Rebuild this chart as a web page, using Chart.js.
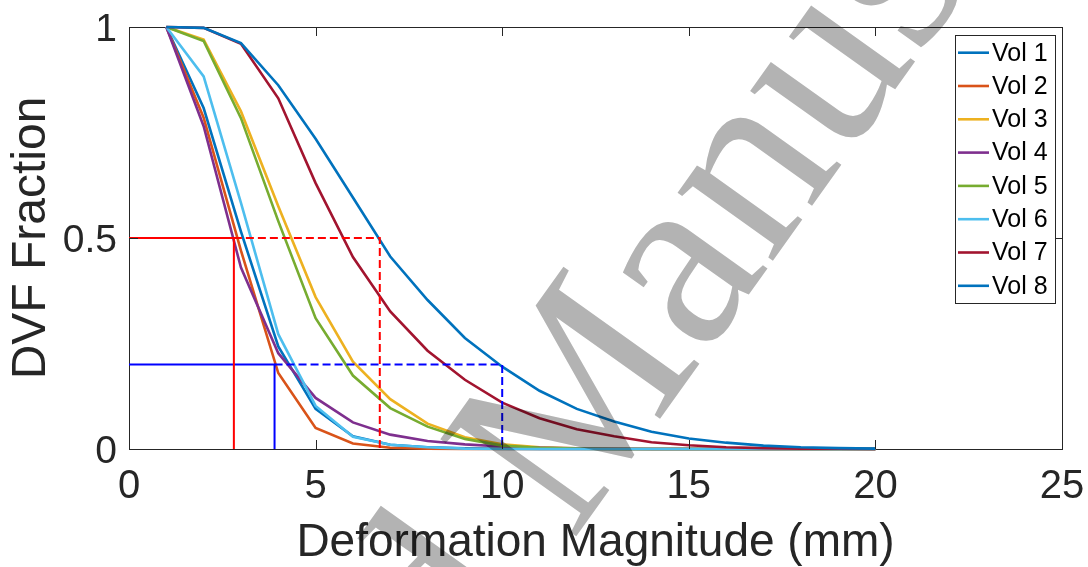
<!DOCTYPE html>
<html><head><meta charset="utf-8">
<script src="https://cdn.jsdelivr.net/npm/chart.js@4.4.1/dist/chart.umd.min.js"></script>
<style>html,body{margin:0;padding:0;background:#fff;}#wrap{width:1088px;height:567px;}</style>
</head><body><div id="wrap"><canvas id="c" width="1088" height="567"></canvas></div>
<script>
// ---- data ----
const magnitudes = [1,2,3,4,5,6,7,8,9,10,11,12,13,14,15,16,17,18,19,20];
const vol1 = [1,0.808,0.515,0.243,0.095,0.030,0.010,0.004,0.0015,0.0005,0,0,0,0,0,0,0,0,0,0];
const vol2 = [1,0.785,0.470,0.180,0.050,0.013,0.003,0.001,0,0,0,0,0,0,0,0,0,0,0,0];
const vol3 = [1,0.970,0.800,0.575,0.360,0.207,0.118,0.060,0.028,0.011,0.004,0.0015,0.0005,0,0,0,0,0,0,0];
const vol4 = [1,0.765,0.430,0.227,0.121,0.063,0.034,0.019,0.011,0.006,0.003,0.0015,0.0005,0,0,0,0,0,0,0];
const vol5 = [1,0.967,0.784,0.540,0.310,0.174,0.097,0.053,0.024,0.008,0.003,0.001,0,0,0,0,0,0,0,0];
const vol6 = [1,0.883,0.583,0.272,0.102,0.029,0.010,0.004,0.001,0,0,0,0,0,0,0,0,0,0,0];
const vol7 = [1,0.998,0.960,0.831,0.630,0.455,0.326,0.233,0.164,0.110,0.073,0.047,0.030,0.016,0.009,0.004,0.002,0.001,0.0005,0];
const vol8 = [1,0.998,0.962,0.862,0.735,0.596,0.456,0.353,0.263,0.195,0.138,0.095,0.065,0.041,0.025,0.015,0.008,0.004,0.002,0.001];
const seriesValues = [vol1,vol2,vol3,vol4,vol5,vol6,vol7,vol8];
const seriesLabels = ['Vol 1','Vol 2','Vol 3','Vol 4','Vol 5','Vol 6','Vol 7','Vol 8'];
const seriesColors = ['#0072BD','#D95319','#EDB120','#7E2F8E','#77AC30','#4DBEEE','#A2142F','#0072BD'];

// reference guide lines (x, y)
const redSolidX = [0, 2.81, 2.81];   const redSolidY = [0.5, 0.5, 0];
const redDashX  = [2.81, 6.72, 6.72]; const redDashY  = [0.5, 0.5, 0];
const blueSolidX = [0, 3.90, 3.90];  const blueSolidY = [0.2, 0.2, 0];
const blueDashX  = [3.90, 10, 10];   const blueDashY  = [0.2, 0.2, 0];

const xTicks = [0,5,10,15,20,25];
const yTicks = [0,0.5,1];
const xTitle = 'Deformation Magnitude (mm)';
const yTitle = 'DVF Fraction';
const watermarkText = 'Accepted Manuscript';

// ---- build ----
const AX = '#262626';
const FONT = '"Liberation Sans", Arial, Helvetica, sans-serif';
function pts(xs, ys){ return xs.map((x,i)=>({x:x, y:ys[i]})); }

const datasets = seriesValues.map((vals,i)=>({
  label: seriesLabels[i],
  data: pts(magnitudes, vals),
  borderColor: seriesColors[i],
  backgroundColor: seriesColors[i],
  borderWidth: 2.6,
  pointRadius: 0,
  tension: 0,
  clip: false,
  order: 8 - i + 1
}));
function refLine(xs, ys, color, dash){
  return {label:'', data: pts(xs, ys), borderColor: color, borderWidth: 2,
    borderDash: dash, pointRadius: 0, tension: 0, clip: false, order: 0, isRef: true};
}
datasets.push(refLine(redSolidX, redSolidY, '#FF0000', []));
datasets.push(refLine(redDashX, redDashY, '#FF0000', [8,4]));
datasets.push(refLine(blueSolidX, blueSolidY, '#0000FF', []));
datasets.push(refLine(blueDashX, blueDashY, '#0000FF', [8,4]));

const tickMarks = {
  id: 'tickMarks',
  afterDatasetsDraw(chart){
    const {ctx, chartArea:a, scales} = chart;
    ctx.save(); ctx.strokeStyle = AX; ctx.lineWidth = 1;
    ctx.beginPath();
    xTicks.forEach(v=>{ const p = Math.round(scales.x.getPixelForValue(v))+0.5;
      ctx.moveTo(p, a.bottom); ctx.lineTo(p, a.bottom-9);
      ctx.moveTo(p, a.top); ctx.lineTo(p, a.top+9); });
    yTicks.forEach(v=>{ const p = Math.round(scales.y.getPixelForValue(v))+0.5;
      ctx.moveTo(a.left, p); ctx.lineTo(a.left+9, p);
      ctx.moveTo(a.right, p); ctx.lineTo(a.right-9, p); });
    ctx.stroke(); ctx.restore();
  }
};
const boxLegend = {
  id: 'boxLegend',
  afterDatasetsDraw(chart){
    const ctx = chart.ctx;
    const L = 955, T = 35, W = 100, H = 268, row = 33.3, first = 52.7;
    ctx.save();
    ctx.fillStyle = '#fff'; ctx.fillRect(L, T, W, H);
    ctx.strokeStyle = AX; ctx.lineWidth = 1; ctx.strokeRect(L+0.5, T+0.5, W, H);
    chart.data.datasets.forEach((ds,i)=>{
      if (ds.isRef) return;
      const y = first + i*row;
      ctx.strokeStyle = ds.borderColor; ctx.lineWidth = 2.6;
      ctx.beginPath(); ctx.moveTo(958, y); ctx.lineTo(989, y); ctx.stroke();
      ctx.fillStyle = '#000'; ctx.font = '25px ' + FONT;
      ctx.textBaseline = 'middle'; ctx.textAlign = 'left';
      ctx.fillText(ds.label, 992, y+1);
    });
    ctx.restore();
  }
};
const watermark = {
  id: 'watermark',
  afterDraw(chart){
    const ctx = chart.ctx;
    ctx.save();
    ctx.globalCompositeOperation = 'multiply';
    ctx.fillStyle = 'rgb(179,179,179)';
    ctx.font = '255px "Liberation Serif", "Times New Roman", serif';
    ctx.translate(-24, 1378);
    ctx.rotate(-54.5*Math.PI/180);
    ctx.textAlign = 'left'; ctx.textBaseline = 'alphabetic';
    ctx.fillText(watermarkText, 0, 0);
    ctx.restore();
  }
};

new Chart(document.getElementById('c'), {
  type: 'line',
  data: { datasets },
  options: {
    responsive: false, animation: false, devicePixelRatio: 1,
    layout: { padding: { top: 27, right: 26, bottom: 0, left: 0 } },
    plugins: { legend: { display: false }, tooltip: { enabled: false } },
    scales: {
      x: {
        type: 'linear', position: 'bottom', min: 0, max: 25,
        afterBuildTicks: s => { s.ticks = xTicks.map(v=>({value:v})); },
        afterFit: s => { s.height = 118; s.paddingLeft = 0; s.paddingRight = 0; },
        ticks: { color: AX, font: { family: FONT, size: 40, lineHeight: 1 }, padding: 18, maxRotation: 0,
                 callback: v => String(v) },
        grid: { display: true, drawOnChartArea: false, drawTicks: false },
        border: { display: true, color: AX, width: 1 },
        title: { display: true, text: xTitle, color: AX, font: { family: FONT, size: 46, lineHeight: 1 }, padding: { top: 0, bottom: 1 } }
      },
      y: {
        type: 'linear', position: 'left', min: 0, max: 1,
        afterBuildTicks: s => { s.ticks = yTicks.map(v=>({value:v})); },
        afterFit: s => { s.width = 129; s.paddingTop = 0; s.paddingBottom = 0; },
        ticks: { color: AX, font: { family: FONT, size: 39, lineHeight: 1 }, padding: 12, labelOffset: 3,
                 callback: v => String(v) },
        grid: { display: true, drawOnChartArea: false, drawTicks: false },
        border: { display: true, color: AX, width: 1 },
        title: { display: true, text: yTitle, color: AX, font: { family: FONT, size: 48, lineHeight: 1 }, padding: { top: 8, bottom: 0 } }
      },
      x2: {
        type: 'linear', position: 'top', min: 0, max: 25,
        afterFit: s => { s.height = 0; s.paddingLeft = 0; s.paddingRight = 0; },
        ticks: { display: false }, grid: { display: true, drawOnChartArea: false, drawTicks: false },
        border: { display: true, color: AX, width: 1 }
      },
      y2: {
        type: 'linear', position: 'right', min: 0, max: 1,
        afterFit: s => { s.width = 0; s.paddingTop = 0; s.paddingBottom = 0; },
        ticks: { display: false }, grid: { display: true, drawOnChartArea: false, drawTicks: false },
        border: { display: true, color: AX, width: 1 }
      }
    }
  },
  plugins: [tickMarks, boxLegend, watermark]
});
</script></body></html>
